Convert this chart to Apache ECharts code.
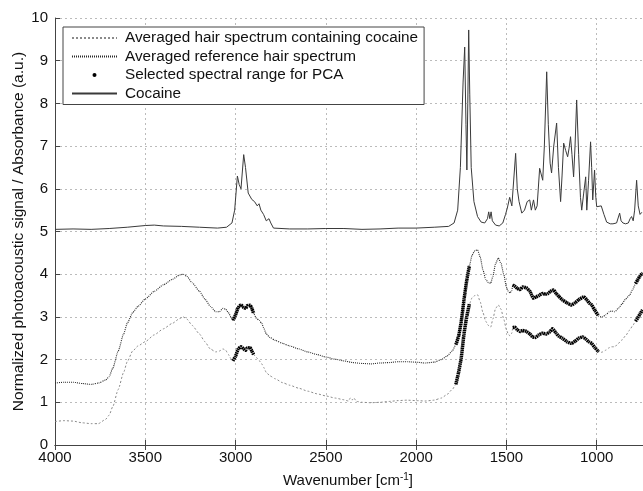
<!DOCTYPE html>
<html>
<head>
<meta charset="utf-8">
<script src="https://cdn.jsdelivr.net/npm/echarts@6/dist/echarts.min.js"></script>
<style>
html,body{margin:0;padding:0;background:#fff;}
#chart{width:643px;height:491px;}
</style>
</head>
<body>
<div id="chart"></div>
<script>
// ---------- data ----------
const xTicks = [500, 1000, 1500, 2000, 2500, 3000, 3500, 4000];
const yTicks = [0, 1, 2, 3, 4, 5, 6, 7, 8, 9, 10];

const seriesNames = [
  'Averaged hair spectrum containing cocaine',
  'Averaged reference hair spectrum',
  'Selected spectral range for PCA',
  'Cocaine'
];

// [wavenumber, value]
const hairCocaine = [
  [4000,0.55],[3950,0.57],[3900,0.56],[3850,0.52],[3800,0.5],[3760,0.5],[3720,0.6],[3700,0.7],[3680,0.9],[3650,1.3],
  [3620,1.7],[3600,1.95],[3570,2.2],[3540,2.32],[3500,2.42],[3450,2.58],[3400,2.72],[3350,2.85],[3310,2.96],[3290,3.0],
  [3270,2.95],[3240,2.8],[3200,2.6],[3170,2.42],[3140,2.25],[3110,2.18],[3090,2.2],[3070,2.25],[3055,2.22],[3040,2.12],
  [3025,2.02],[3015,1.97],[3000,2.08],[2985,2.25],[2970,2.3],[2955,2.25],[2945,2.22],[2935,2.27],[2920,2.28],[2910,2.2],
  [2900,2.12],[2885,2.05],[2870,1.98],[2855,1.9],[2845,1.82],[2830,1.7],[2810,1.62],[2780,1.55],[2740,1.46],[2700,1.4],
  [2650,1.33],[2600,1.26],[2550,1.2],[2500,1.15],[2450,1.1],[2400,1.06],[2375,1.03],[2365,1.1],[2355,1.05],[2345,1.1],
  [2330,1.02],[2300,1.0],[2250,0.99],[2200,1.0],[2150,1.02],[2100,1.04],[2050,1.05],[2000,1.04],[1950,1.03],[1900,1.05],
  [1860,1.1],[1830,1.18],[1800,1.3],[1780,1.42],[1765,1.7],[1750,2.05],[1735,2.6],[1720,3.0],[1705,3.3],[1690,3.45],
  [1675,3.5],[1660,3.52],[1645,3.35],[1630,3.1],[1615,2.9],[1600,2.8],[1587,2.76],[1575,2.95],[1560,3.2],[1545,3.28],
  [1530,3.18],[1515,2.95],[1500,2.7],[1490,2.6],[1480,2.55],[1470,2.62],[1465,2.75],[1454,2.76],[1440,2.7],[1425,2.66],
  [1410,2.68],[1390,2.66],[1370,2.6],[1355,2.53],[1340,2.52],[1320,2.58],[1300,2.62],[1280,2.6],[1260,2.65],[1245,2.72],
  [1225,2.62],[1210,2.55],[1190,2.5],[1165,2.42],[1140,2.38],[1120,2.43],[1100,2.5],[1078,2.53],[1060,2.48],[1045,2.42],
  [1028,2.38],[1010,2.28],[989,2.18],[975,2.17],[967,2.18],[950,2.22],[930,2.28],[918,2.3],[900,2.3],[880,2.38],
  [860,2.46],[840,2.56],[818,2.69],[800,2.8],[785,2.9],[774,2.97],[760,3.07],[746,3.16]
];

const hairReference = [
  [4000,1.45],[3950,1.47],[3900,1.47],[3850,1.44],[3800,1.42],[3760,1.45],[3720,1.52],[3700,1.6],[3680,1.8],[3650,2.2],
  [3620,2.6],[3600,2.85],[3570,3.1],[3540,3.25],[3500,3.42],[3450,3.6],[3400,3.75],[3350,3.88],[3310,3.98],[3290,4.0],
  [3270,3.95],[3240,3.8],[3200,3.6],[3170,3.42],[3140,3.25],[3110,3.12],[3090,3.12],[3070,3.2],[3055,3.18],[3040,3.1],
  [3025,3.0],[3015,2.92],[3000,3.05],[2985,3.22],[2970,3.28],[2955,3.22],[2945,3.2],[2935,3.26],[2920,3.27],[2910,3.2],
  [2900,3.08],[2885,2.97],[2870,2.92],[2855,2.85],[2845,2.75],[2830,2.6],[2810,2.52],[2780,2.45],[2740,2.38],[2700,2.32],
  [2650,2.25],[2600,2.18],[2550,2.12],[2500,2.06],[2450,2.01],[2400,1.97],[2350,1.93],[2300,1.91],[2250,1.9],[2200,1.92],
  [2150,1.93],[2100,1.95],[2050,1.95],[2000,1.94],[1950,1.92],[1900,1.94],[1860,2.0],[1830,2.08],[1800,2.2],[1780,2.35],
  [1765,2.55],[1750,2.9],[1735,3.4],[1720,3.85],[1705,4.2],[1690,4.45],[1675,4.55],[1660,4.57],[1645,4.4],[1630,4.1],
  [1615,3.88],[1600,3.8],[1587,3.79],[1575,3.95],[1560,4.25],[1545,4.38],[1530,4.25],[1515,4.0],[1500,3.7],[1490,3.6],
  [1480,3.56],[1470,3.62],[1465,3.75],[1454,3.72],[1440,3.67],[1425,3.64],[1410,3.7],[1390,3.68],[1370,3.6],[1350,3.44],
  [1335,3.47],[1320,3.5],[1300,3.55],[1285,3.53],[1270,3.55],[1255,3.6],[1240,3.63],[1225,3.55],[1210,3.48],[1190,3.4],
  [1165,3.33],[1140,3.28],[1120,3.33],[1100,3.4],[1072,3.47],[1055,3.4],[1040,3.32],[1028,3.28],[1010,3.15],[989,3.02],
  [975,3.0],[967,3.0],[950,3.05],[930,3.12],[918,3.14],[900,3.12],[880,3.2],[860,3.3],[840,3.42],[818,3.51],
  [800,3.65],[785,3.78],[774,3.86],[760,3.96],[746,4.03]
];

const cocaine = [
  [4000,5.05],[3900,5.06],[3800,5.05],[3700,5.07],[3600,5.1],[3500,5.14],[3450,5.15],[3400,5.13],[3300,5.12],[3200,5.1],
  [3100,5.08],[3050,5.1],[3020,5.2],[3005,5.5],[2990,6.3],[2980,6.1],[2970,6.0],[2955,6.8],[2945,6.5],[2930,5.9],
  [2910,5.75],[2895,5.7],[2880,5.6],[2870,5.65],[2860,5.5],[2845,5.4],[2830,5.25],[2815,5.3],[2805,5.2],[2790,5.08],
  [2700,5.06],[2600,5.06],[2500,5.07],[2400,5.07],[2300,5.05],[2200,5.06],[2100,5.08],[2000,5.08],[1900,5.1],[1820,5.12],
  [1790,5.2],[1770,5.5],[1755,6.5],[1740,8.5],[1731,9.32],[1724,7.5],[1719,6.44],[1714,8.0],[1709,9.72],[1703,8.2],
  [1695,6.5],[1680,5.7],[1660,5.35],[1640,5.22],[1620,5.2],[1605,5.3],[1598,5.46],[1592,5.3],[1585,5.46],[1578,5.25],
  [1560,5.15],[1540,5.13],[1520,5.2],[1505,5.4],[1495,5.55],[1482,5.8],[1470,5.6],[1458,6.3],[1449,6.83],[1440,6.0],
  [1430,5.7],[1415,5.43],[1400,5.5],[1385,5.7],[1371,5.74],[1362,5.5],[1350,5.74],[1340,5.5],[1330,5.6],[1316,6.48],
  [1305,6.3],[1299,6.2],[1290,7.0],[1277,8.74],[1268,7.5],[1258,6.6],[1250,6.37],[1238,7.0],[1222,7.54],[1212,6.5],
  [1200,5.7],[1192,6.3],[1183,7.07],[1172,6.9],[1161,6.75],[1153,6.95],[1145,7.22],[1137,6.8],[1128,6.28],[1120,7.0],
  [1111,8.08],[1100,6.8],[1090,5.8],[1083,5.5],[1072,5.9],[1061,6.28],[1055,5.5],[1045,6.2],[1034,7.1],[1028,6.5],
  [1022,5.74],[1012,6.44],[1005,5.8],[1000,5.58],[990,5.55],[975,5.6],[960,5.4],[945,5.22],[925,5.18],[910,5.18],
  [890,5.2],[873,5.43],[865,5.25],[855,5.2],[840,5.18],[825,5.2],[815,5.3],[807,5.35],[798,5.25],[790,5.5],
  [779,6.2],[770,5.6],[760,5.4],[750,5.45]
];

// selected spectral ranges (thick black marks), per curve and per range
const selRef1 = [[3015,2.92],[3000,3.05],[2985,3.22],[2970,3.28],[2955,3.22],[2945,3.2],[2935,3.26],[2920,3.27],[2910,3.2],[2900,3.08]];
const selRef2 = [[1780,2.35],[1765,2.55],[1750,2.9],[1735,3.4],[1720,3.85],[1705,4.2]];
const selRef3 = [[1465,3.75],[1454,3.72],[1440,3.67],[1425,3.64],[1410,3.7],[1390,3.68],[1370,3.6],[1350,3.44],[1335,3.47],
  [1320,3.5],[1300,3.55],[1285,3.53],[1270,3.55],[1255,3.6],[1240,3.63],[1225,3.55],[1210,3.48],[1190,3.4],[1165,3.33],
  [1140,3.28],[1120,3.33],[1100,3.4],[1072,3.47],[1055,3.4],[1040,3.32],[1028,3.28],[1010,3.15],[989,3.02]];
const selRef4 = [[785,3.78],[774,3.86],[760,3.96],[746,4.03]];
const selHair1 = [[3015,1.97],[3000,2.08],[2985,2.25],[2970,2.3],[2955,2.25],[2945,2.22],[2935,2.27],[2920,2.28],[2910,2.2],[2900,2.12]];
const selHair2 = [[1780,1.42],[1765,1.7],[1750,2.05],[1735,2.6],[1720,3.0],[1705,3.3]];
const selHair3 = [[1465,2.75],[1454,2.76],[1440,2.7],[1425,2.66],[1410,2.68],[1390,2.66],[1370,2.6],[1355,2.53],[1340,2.52],
  [1320,2.58],[1300,2.62],[1280,2.6],[1260,2.65],[1245,2.72],[1225,2.62],[1210,2.55],[1190,2.5],[1165,2.42],[1140,2.38],
  [1120,2.43],[1100,2.5],[1078,2.53],[1060,2.48],[1045,2.42],[1028,2.38],[1010,2.28],[989,2.18]];
const selHair4 = [[785,2.9],[774,2.97],[760,3.07],[746,3.16]];

// ---------- chart ----------
const selectedParts = [selRef1, selRef2, selRef3, selRef4, selHair1, selHair2, selHair3, selHair4];
const selectedData = [];
selectedParts.forEach((p, i) => { if (i) selectedData.push([null, null]); p.forEach(d => selectedData.push(d)); });

const FONT = '"Liberation Sans", Arial, Helvetica, sans-serif';
const chart = echarts.init(document.getElementById('chart'), null, {renderer: 'canvas'});
const noMarker = {color: 'rgba(0,0,0,0)', borderWidth: 0, opacity: 0};

chart.setOption({
  animation: false,
  backgroundColor: '#fff',
  textStyle: {fontFamily: FONT},
  grid: {left: 55, top: 18, width: 632, bottom: 46, show: false, containLabel: false, outerBoundsMode: 'none'},
  legend: {
    orient: 'vertical',
    left: 63, top: 27,
    padding: [3, 6, 3, 8],
    itemWidth: 45, itemHeight: 4, itemGap: 2.5,
    borderColor: '#444', borderWidth: 1,
    backgroundColor: '#fff',
    selectedMode: false,
    textStyle: {fontFamily: FONT, fontSize: 15.3, color: '#111', lineHeight: 16, padding: [0, 0, 0, 3]},
    data: [
      {name: seriesNames[0], itemStyle: noMarker},
      {name: seriesNames[1], itemStyle: noMarker},
      {name: seriesNames[2], icon: 'circle'},
      {name: seriesNames[3], itemStyle: noMarker}
    ]
  },
  xAxis: [{
    type: 'value', inverse: true, min: xTicks[0], max: xTicks[xTicks.length - 1], interval: 500,
    name: 'Wavenumber [cm{sup|-1}]', nameLocation: 'middle', nameGap: 27,
    nameTextStyle: {fontFamily: FONT, fontSize: 15, color: '#111', padding: [0, 46, 0, 0],
      rich: {sup: {fontSize: 10, verticalAlign: 'top', padding: [0, 0, 8, 0], fontFamily: FONT, color: '#111'}}},
    axisLine: {show: true, onZero: false, lineStyle: {color: '#444', width: 1}},
    axisTick: {show: true, inside: true, length: 5, lineStyle: {color: '#444'}},
    axisLabel: {fontFamily: FONT, fontSize: 15, color: '#111', margin: 5, formatter: v => String(v)},
    splitLine: {show: true, lineStyle: {color: '#bbb', type: [2, 3], width: 1}}
  }, {
    type: 'value', inverse: true, position: 'top', min: xTicks[0], max: xTicks[xTicks.length - 1], interval: 500,
    axisLine: {show: true, lineStyle: {color: '#444', width: 1}},
    axisTick: {show: true, inside: true, length: 5, lineStyle: {color: '#444'}},
    axisLabel: {show: false}, splitLine: {show: false}
  }],
  yAxis: {
    type: 'value', min: yTicks[0], max: yTicks[yTicks.length - 1], interval: 1,
    name: 'Normalized photoacoustic signal / Absorbance (a.u.)', nameLocation: 'middle', nameGap: 28,
    nameMoveOverlap: false,
    nameTextStyle: {fontFamily: FONT, fontSize: 15.5, color: '#111'},
    axisLine: {show: true, lineStyle: {color: '#444', width: 1}},
    axisTick: {show: true, inside: true, length: 5, lineStyle: {color: '#444'}},
    axisLabel: {fontFamily: FONT, fontSize: 15, color: '#111', margin: 7, formatter: v => String(v)},
    splitLine: {show: true, lineStyle: {color: '#bbb', type: [2, 3], width: 1}}
  },
  series: [
    {name: seriesNames[0], type: 'line', data: hairCocaine, symbol: 'none', smooth: 0.2, smoothMonotone: 'x',
     color: '#8a8a8a', lineStyle: {color: '#8a8a8a', width: 1, type: [2, 2]}, z: 2},
    {name: seriesNames[1], type: 'line', data: hairReference, symbol: 'none', smooth: 0.2, smoothMonotone: 'x',
     color: '#2a2a2a', lineStyle: {color: '#2a2a2a', width: 1.1, type: [1, 1]}, z: 3},
    {name: seriesNames[3], type: 'line', data: cocaine, symbol: 'none',
     color: '#3a3a3a', lineStyle: {color: '#3a3a3a', width: 1}, z: 4},
    {name: seriesNames[2], type: 'line', data: selectedData, symbol: 'none', connectNulls: false, smooth: 0.2,
     color: '#000', itemStyle: {color: '#000'}, lineStyle: {color: '#000', width: 3.5, type: [1.5, 0.5]}, z: 5}
  ]
});
</script>
</body>
</html>
